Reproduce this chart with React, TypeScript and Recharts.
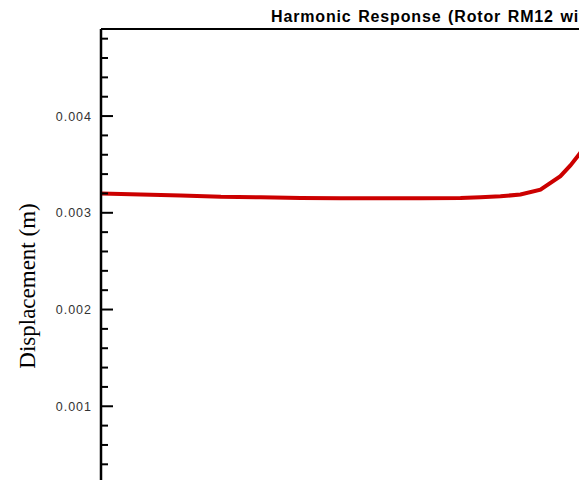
import { LineChart, Line, XAxis, YAxis, ReferenceLine } from 'recharts'

// excitation frequency (Hz) — x axis itself is cropped out of the view
const freqs = [0, 10, 20, 30, 40, 50, 60, 70, 80, 90, 95, 100, 105, 110, 115, 117.5, 120, 125]
// displacement amplitude (m)
const displacement = [
  0.0032, 0.00319, 0.00318, 0.003165, 0.00316, 0.003152, 0.00315, 0.00315, 0.00315,
  0.003152, 0.00316, 0.00317, 0.00319, 0.00324, 0.003378, 0.00349, 0.00362, 0.0042,
]
// y ticks every 0.0002, labelled every 0.001
const yTicks = [
  0, 0.0002, 0.0004, 0.0006, 0.0008, 0.001, 0.0012, 0.0014, 0.0016, 0.0018, 0.002,
  0.0022, 0.0024, 0.0026, 0.0028, 0.003, 0.0032, 0.0034, 0.0036, 0.0038, 0.004,
  0.0042, 0.0044, 0.0046, 0.0048,
]
const yMax = 0.0049

const data = freqs.map((f, i) => ({ freq: f, disp: displacement[i] }))

function YTick(props: any) {
  const { x, y, payload } = props
  const v = payload.value
  const major = Math.abs(v * 1000 - Math.round(v * 1000)) < 1e-6
  return (
    <g>
      <line x1={x} x2={x + (major ? 12 : 7)} y1={y} y2={y} stroke="#000" strokeWidth={2} />
      {major && v > 0 && (
        <text
          x={x - 9}
          y={y}
          dy={4.5}
          textAnchor="end"
          fill="#333"
          fontSize={12.5}
          letterSpacing={1}
          fontFamily="'Liberation Sans', Arial, sans-serif"
        >
          {v.toFixed(3)}
        </text>
      )}
    </g>
  )
}

export default function App() {
  return (
    <div
      style={{
        position: 'fixed',
        left: 0,
        top: 0,
        width: 579,
        height: 480,
        overflow: 'hidden',
        background: '#fff',
      }}
    >
      <LineChart width={1000} height={520} data={data} margin={{ top: 29, right: 100, bottom: 17, left: 0 }}>
        <XAxis dataKey="freq" type="number" domain={[0, 200]} hide />
        <YAxis
          width={101}
          domain={[0, yMax]}
          ticks={yTicks}
          interval={0}
          tickSize={0}
          tickMargin={0}
          tickLine={false}
          tick={(p: any) => <YTick {...p} />}
          axisLine={{ stroke: '#000', strokeWidth: 2.5 }}
          allowDataOverflow
        />
        {/* top frame of the plot box */}
        <ReferenceLine y={yMax} stroke="#000" strokeWidth={2} />
        <Line
          type="linear"
          dataKey="disp"
          stroke="#cc0000"
          strokeWidth={4}
          dot={false}
          isAnimationActive={false}
        />
      </LineChart>
      <div
        style={{
          position: 'absolute',
          left: 271,
          top: 9,
          fontFamily: "'Liberation Sans', Arial, sans-serif",
          fontWeight: 'bold',
          fontSize: 16,
          letterSpacing: 0.85,
          wordSpacing: 1.3,
          lineHeight: 1,
          whiteSpace: 'nowrap',
          color: '#000',
        }}
      >
        Harmonic Response (Rotor RM12 with Bearings)
      </div>
      <div
        style={{
          position: 'absolute',
          left: 27.5,
          top: 286,
          transform: 'translate(-50%, -50%) rotate(-90deg)',
          fontFamily: "'Liberation Serif', 'Times New Roman', serif",
          fontSize: 23,
          whiteSpace: 'nowrap',
          color: '#000',
        }}
      >
        Displacement (m)
      </div>
    </div>
  )
}
